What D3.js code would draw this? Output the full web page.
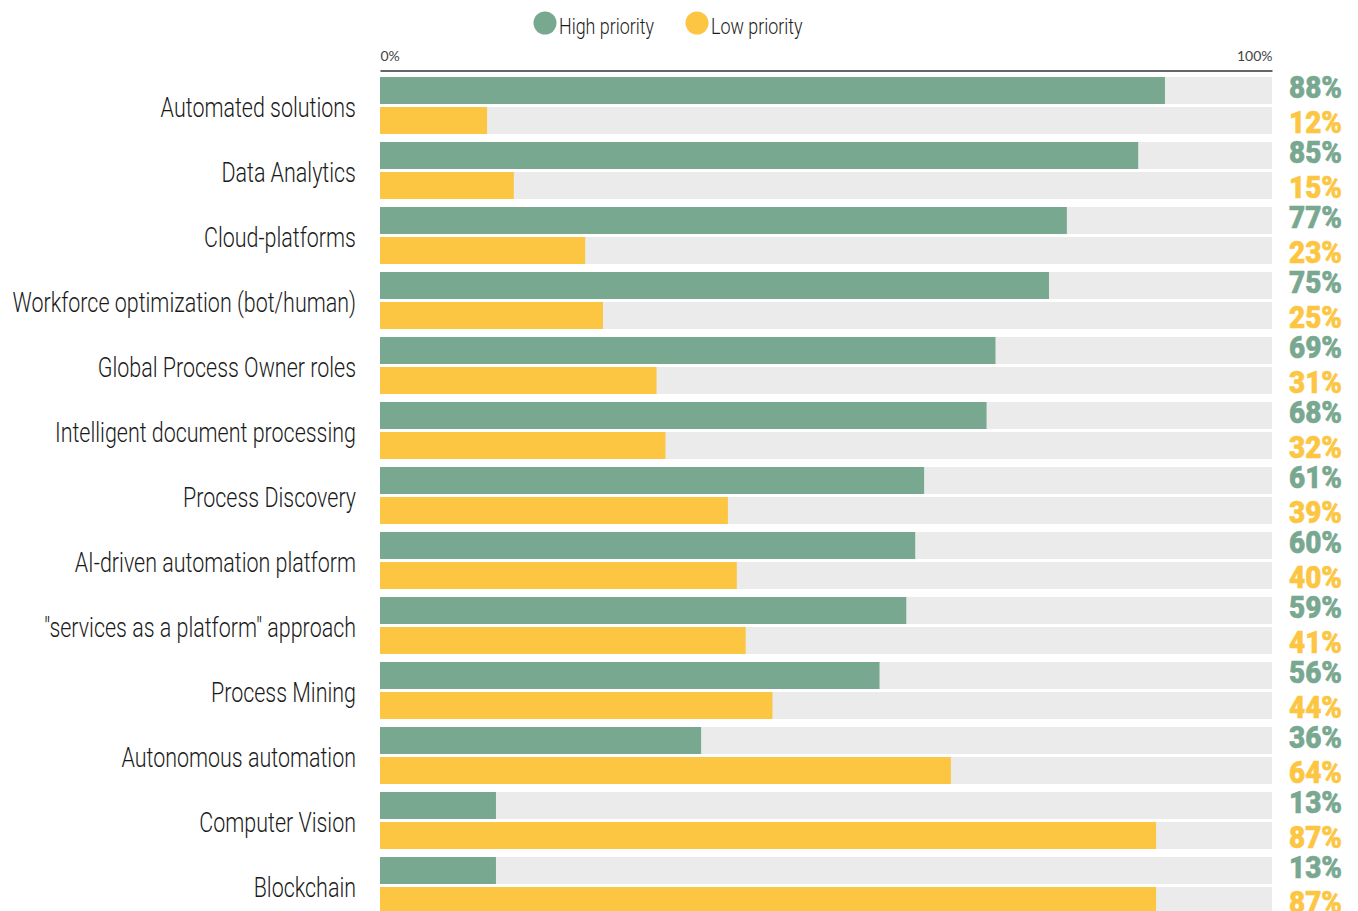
<!DOCTYPE html>
<html>
<head>
<meta charset="utf-8">
<script src="https://cdn.jsdelivr.net/npm/d3@7"></script>
<style>
  html, body { margin: 0; padding: 0; background: #ffffff; }
  svg { display: block; }
</style>
</head>
<body>
<svg id="chart" width="1358" height="911"></svg>
<script>
// Technologies and share of respondents rating each as high / low priority
const categories = [
  "Automated solutions",
  "Data Analytics",
  "Cloud-platforms",
  "Workforce optimization (bot/human)",
  "Global Process Owner roles",
  "Intelligent document processing",
  "Process Discovery",
  "AI-driven automation platform",
  "\"services as a platform\" approach",
  "Process Mining",
  "Autonomous automation",
  "Computer Vision",
  "Blockchain"
];
const highPriority = [88, 85, 77, 75, 69, 68, 61, 60, 59, 56, 36, 13, 13];
const lowPriority  = [12, 15, 23, 25, 31, 32, 39, 40, 41, 44, 64, 87, 87];
const seriesNames  = ["High priority", "Low priority"];
const axisTicks    = [0, 100];

const colors = { high: "#79a890", low: "#fcc642", track: "#ebebeb" };
const lightFont = "Roboto, 'Liberation Sans', sans-serif";
const condensed = 0.795;  // horizontal squeeze for the condensed label face

const svg = d3.select("#chart");

const x = d3.scaleLinear().domain([0, 100]).range([380, 1272]);

const y = d3.scaleBand()
  .domain(categories)
  .range([77, 77 + categories.length * 65 - 8])
  .paddingInner(8 / 65)
  .paddingOuter(0);

const sub = d3.scaleBand()
  .domain(["high", "low"])
  .range([0, y.bandwidth()])
  .paddingInner(3 / 30);

const rows = categories.map((c, i) => ({
  cat: c,
  values: [
    { key: "high", v: highPriority[i] },
    { key: "low", v: lowPriority[i] }
  ]
}));

// Legend
const legend = svg.append("g").attr("class", "legend");
const legendItems = [
  { key: "high", label: seriesNames[0], cx: 545 },
  { key: "low", label: seriesNames[1], cx: 697 }
];
legendItems.forEach(d => {
  legend.append("circle")
    .attr("cx", d.cx).attr("cy", 23).attr("r", 11.5)
    .attr("fill", colors[d.key]);
  legend.append("text")
    .attr("transform", `translate(${d.cx + 14},34) scale(${condensed},1)`)
    .attr("font-family", lightFont)
    .attr("font-weight", 300)
    .attr("font-size", 22.5)
    .attr("fill", "#1a1a1a")
    .text(d.label);
});

// Top axis: 0% and 100%
const axis = svg.append("g")
  .attr("transform", "translate(0,70.5)")
  .call(d3.axisTop(x).tickValues(axisTicks).tickSize(0).tickPadding(10).tickFormat(d => d + "%"));
axis.select(".domain").attr("stroke", "#666").attr("stroke-width", 2);
axis.selectAll(".tick text")
  .attr("font-family", "Lato, 'DejaVu Sans', sans-serif")
  .attr("font-size", 14)
  .attr("fill", "#444")
  .attr("text-anchor", (d, i) => i === 0 ? "start" : "end");

// Rows
const row = svg.append("g").selectAll("g.row")
  .data(rows)
  .join("g")
  .attr("class", "row")
  .attr("transform", d => `translate(0,${y(d.cat)})`);

row.append("text")
  .attr("class", "cat")
  .attr("transform", `translate(356,40) scale(${condensed},1)`)
  .attr("text-anchor", "end")
  .attr("font-family", lightFont)
  .attr("font-weight", 300)
  .attr("font-size", 27)
  .attr("fill", "#1a1a1a")
  .text(d => d.cat);

const bar = row.selectAll("g.bar")
  .data(d => d.values)
  .join("g")
  .attr("class", "bar")
  .attr("transform", d => `translate(0,${sub(d.key)})`);

bar.append("rect")
  .attr("x", x(0))
  .attr("width", x(100) - x(0))
  .attr("height", sub.bandwidth())
  .attr("fill", colors.track);

bar.append("rect")
  .attr("x", x(0))
  .attr("width", d => x(d.v) - x(0))
  .attr("height", sub.bandwidth())
  .attr("fill", d => colors[d.key]);

bar.append("text")
  .attr("transform", d => `translate(1289,${d.key === "high" ? 21 : 26}) scale(0.9,1)`)
  .attr("font-family", "Roboto, 'Liberation Sans', sans-serif")
  .attr("font-weight", 900)
  .attr("font-size", 31)
  .attr("stroke", d => colors[d.key])
  .attr("stroke-width", 0.6)
  .attr("fill", d => colors[d.key])
  .text(d => d.v + "%");
</script>
</body>
</html>
